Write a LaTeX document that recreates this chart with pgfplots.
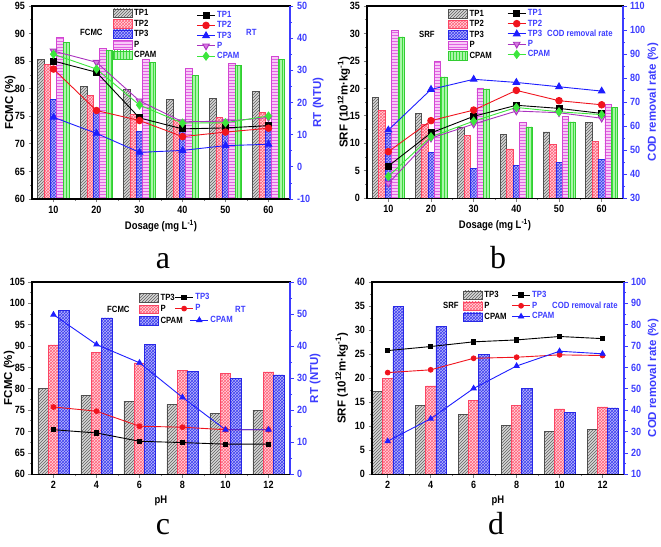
\documentclass[border=0pt]{standalone}
\usepackage{fontspec}
\setmainfont{Liberation Sans}[FakeStretch=0.86]
\newfontfamily\ylabfont{Liberation Sans}
\newfontfamily\letterfont{Liberation Serif}
\usepackage{pgfplots}
\usepackage{pgfplotstable}
\pgfplotsset{compat=1.18}
\usetikzlibrary{patterns}

\definecolor{axisblue}{RGB}{60,60,255}
\definecolor{gfill}{RGB}{215,215,215}
\definecolor{gpat}{RGB}{95,95,95}
\definecolor{gdraw}{RGB}{80,80,80}
\definecolor{rfill}{RGB}{255,215,222}
\definecolor{rpat}{RGB}{255,95,120}
\definecolor{rdraw}{RGB}{250,70,100}
\definecolor{bfill}{RGB}{185,185,250}
\definecolor{bpat}{RGB}{60,60,240}
\definecolor{bdraw}{RGB}{40,40,230}
\definecolor{pfill}{RGB}{248,200,248}
\definecolor{ppat}{RGB}{225,100,225}
\definecolor{pdraw}{RGB}{210,70,210}
\definecolor{cfill}{RGB}{170,245,170}
\definecolor{cpat}{RGB}{60,220,60}
\definecolor{cdraw}{RGB}{50,205,50}
\definecolor{lred}{RGB}{240,20,30}
\definecolor{lblue}{RGB}{30,30,255}
\definecolor{lpurp}{RGB}{170,50,190}
\definecolor{lpurpfill}{RGB}{215,120,225}
\definecolor{lgreen}{RGB}{60,230,60}

% ---------------- data ----------------
\pgfplotstableread{
x   TP1  TP2  TP3  P    CPAM
10  85.3 84.4 78.1 89.3 88.4
20  80.4 78.8 75.8 87.3 87.0
30  79.9 75.4 72.2 85.3 84.8
40  78.0 74.2 72.3 83.7 82.4
50  78.3 74.8 72.7 84.6 84.2
60  79.5 75.7 73.0 85.8 85.3
}\tabAbar
\pgfplotstableread{
x   TP1  TP2  TP3  P    CPAM
10  32.9 30.4 15.4 36.0 35.0
20  29.4 17.5 10.4 32.5 30.4
30  15.2 14.4 4.5  20.5 19.2
40  11.8 9.4  5.1  14.0 13.6
50  12.1 10.8 6.6  14.2 13.7
60  12.8 12.0 7.0  15.3 15.8
}\tabAline
\pgfplotstableread{
x   TP1  TP2  TP3  P    CPAM
10  18.4 16.0 11.9 30.6 29.4
20  15.4 13.5 8.4  25.0 22.1
30  13.0 11.4 5.5  20.1 19.9
40  11.6 9.0  6.0  13.8 13.0
50  12.1 9.8  6.6  14.9 13.9
60  13.8 10.3 7.1  17.1 16.6
}\tabBbar
\pgfplotstableread{
x   TP1  TP2  TP3  P    CPAM
10  43.4 49.4 58.4 36.2 39.1
20  57.2 62.3 75.3 55.0 55.6
30  64.1 66.7 79.5 60.9 62.1
40  68.7 74.9 78.2 66.3 67.8
50  67.4 70.6 76.4 65.6 66.0
60  65.3 68.9 74.6 63.3 64.8
}\tabBline
\pgfplotstableread{
x   TP3   P     CPAM
2   80.1  90.3  98.3
4   78.5  88.5  96.6
6   77.1  86.1  90.4
8   76.4  84.3  84.0
10  74.25 83.7  82.5
12  75.0  83.95 83.25
}\tabCbar
\pgfplotstableread{
x   TP3  P    CPAM
2   13.9 21.0 49.8
4   12.9 19.7 40.5
6   10.3 15.0 34.8
8   9.9  14.7 24.0
10  9.4  13.9 13.9
12  9.4  13.9 13.9
}\tabCline
\pgfplotstableread{
x   TP3  P     CPAM
2   17.3 20.0  34.9
4   14.4 18.4  30.8
6   12.4 15.4  24.9
8   10.2 14.4  17.9
10  8.9  13.6  12.9
12  9.3  14.05 13.8
}\tabDbar
\pgfplotstableread{
x   TP3  P    CPAM
2   67.9 57.6 25.5
4   69.8 58.9 36.0
6   72.0 64.3 50.2
8   72.9 64.8 60.7
10  74.5 65.9 67.6
12  73.5 65.6 66.4
}\tabDline

\pgfplotsset{
  barleg/.style={legend image code/.code={\draw[##1] (0pt,-4.25pt) rectangle (19pt,4.25pt);}},
  lineleg/.style={legend image code/.code={\path[draw=none,fill=none] (0pt,-4.25pt) rectangle (18pt,4.25pt);
      \draw[mark repeat=2,mark phase=2,##1] plot coordinates {(0pt,0pt) (9pt,0pt) (18pt,0pt)};}},
  gbar/.style={fill=gfill, draw=gdraw, line width=0.5pt, postaction={pattern=north east lines, pattern color=gpat}, barleg},
  rbar/.style={fill=rfill, draw=rdraw, line width=0.5pt, postaction={pattern=crosshatch, pattern color=rpat}, barleg},
  bbar/.style={fill=bfill, draw=bdraw, line width=0.5pt, postaction={pattern=crosshatch, pattern color=bpat}, barleg},
  pbar/.style={fill=pfill, draw=pdraw, line width=0.5pt, postaction={pattern=horizontal lines, pattern color=ppat}, barleg},
  cbar/.style={fill=cfill, draw=cdraw, line width=0.5pt, postaction={pattern=vertical lines, pattern color=cpat}, barleg},
  lK/.style={black, line width=0.9pt, mark=square*, mark size=3pt, mark options={solid, fill=black}, lineleg},
  lR/.style={lred, line width=0.9pt, mark=*, mark size=3.3pt, mark options={solid, fill=lred}, lineleg},
  lB/.style={lblue, line width=0.9pt, mark=triangle*, mark size=3.8pt, mark options={solid, fill=lblue}, lineleg},
  lP/.style={lpurp, line width=0.9pt, mark=triangle*, mark size=3.8pt, mark options={solid, rotate=180, fill=lpurpfill, draw=lpurp}, lineleg},
  lG/.style={lgreen, line width=0.9pt, mark=diamond*, mark size=4pt, mark options={solid, fill=lgreen}, lineleg},
  sK/.style={black, line width=0.9pt, mark=square*, mark size=2.2pt, mark options={solid, fill=black}, lineleg},
  sR/.style={lred, line width=0.9pt, mark=*, mark size=2.4pt, mark options={solid, fill=lred}, lineleg},
  sB/.style={lblue, line width=0.9pt, mark=triangle*, mark size=3pt, mark options={solid, fill=lblue}, lineleg},
  panel/.style={scale only axis, font=\bfseries\fontsize{10.5}{12}\selectfont,
    /pgf/number format/assume math mode=true, tick align=outside,
    major tick length=3.5pt, minor tick length=2pt,
    axis line style={line width=1.1pt}, every tick/.append style={line width=0.8pt},
    xlabel style={font=\bfseries\fontsize{11}{13}\selectfont},
    ylabel style={font=\ylabfont\bfseries\fontsize{11.5}{13}\selectfont},
    legend cell align=left,
    legend style={draw=none, fill=none, inner sep=0pt, outer sep=0pt, row sep=1.5pt, column sep=1.2pt,
      font=\bfseries\fontsize{9}{10}\selectfont, nodes={inner sep=0.5pt}}},
  lax/.style={panel, tick pos=left, axis on top, minor x tick num=1, minor y tick num=1, ybar=0pt},
  rax/.style={panel, axis y line*=right, axis x line=none, minor y tick num=1,
    y axis line style={axisblue, line width=1.1pt}, every tick/.append style={axisblue},
    yticklabel style={text=axisblue}, ylabel style={text=axisblue},
    legend style={nodes={text=axisblue}}},
  ylpos/.style={ylabel style={at={(axis description cs:#1,0.5)}, anchor=center}},
}

\begin{document}
\begin{tikzpicture}
\useasboundingbox (0pt,0pt) rectangle (661pt,546pt);

% ================= panel a =================
\begin{axis}[lax, at={(32pt,347pt)}, anchor=south west, width=258pt, height=193pt,
  xmin=5, xmax=65, ymin=60, ymax=95, xtick={10,20,...,60}, ytick={60,65,...,95},
  bar width=6.4pt, xlabel={Dosage (mg L\textsuperscript{-1})}, ylabel={FCMC (\%)}, ylpos=-0.085,
  legend style={at={(0.314,0.986)}, anchor=north west}]
\addplot[gbar] table[x=x,y=TP1]{\tabAbar}; \addlegendentry{TP1}
\addplot[rbar] table[x=x,y=TP2]{\tabAbar}; \addlegendentry{TP2}
\addplot[bbar] table[x=x,y=TP3]{\tabAbar}; \addlegendentry{TP3}
\addplot[pbar] table[x=x,y=P]{\tabAbar}; \addlegendentry{P}
\addplot[cbar] table[x=x,y=CPAM]{\tabAbar}; \addlegendentry{CPAM}
\end{axis}
\begin{axis}[rax, at={(32pt,347pt)}, anchor=south west, width=258pt, height=193pt,
  xmin=5, xmax=65, ymin=-10, ymax=50, ytick={-10,0,...,50}, ylabel={RT (NTU)}, ylpos=1.109,
  legend style={at={(0.638,0.975)}, anchor=north west}]
\addplot[lK] table[x=x,y=TP1]{\tabAline}; \addlegendentry{TP1}
\addplot[lR] table[x=x,y=TP2]{\tabAline}; \addlegendentry{TP2}
\addplot[lB] table[x=x,y=TP3]{\tabAline}; \addlegendentry{TP3}
\addplot[lP] table[x=x,y=P]{\tabAline}; \addlegendentry{P}
\addplot[lG] table[x=x,y=CPAM]{\tabAline}; \addlegendentry{CPAM}
\end{axis}

% ================= panel b =================
\begin{axis}[lax, at={(367pt,347.7pt)}, anchor=south west, width=256pt, height=192.3pt,
  xmin=5, xmax=65, ymin=0, ymax=35, xtick={10,20,...,60}, ytick={0,5,...,35},
  bar width=6.4pt, xlabel={Dosage (mg L\textsuperscript{-1})},
  ylabel={SRF (10\textsuperscript{12}m·kg\textsuperscript{-1})}, ylpos=-0.09,
  legend style={at={(0.318,0.983)}, anchor=north west}]
\addplot[gbar] table[x=x,y=TP1]{\tabBbar}; \addlegendentry{TP1}
\addplot[rbar] table[x=x,y=TP2]{\tabBbar}; \addlegendentry{TP2}
\addplot[bbar] table[x=x,y=TP3]{\tabBbar}; \addlegendentry{TP3}
\addplot[pbar] table[x=x,y=P]{\tabBbar}; \addlegendentry{P}
\addplot[cbar] table[x=x,y=CPAM]{\tabBbar}; \addlegendentry{CPAM}
\end{axis}
\begin{axis}[rax, at={(367pt,347.7pt)}, anchor=south west, width=256pt, height=192.3pt,
  xmin=5, xmax=65, ymin=30, ymax=110, ytick={30,40,...,110}, ylabel={COD removal rate (\%)}, ylpos=1.117,
  legend style={at={(0.548,0.984)}, anchor=north west}]
\addplot[lK] table[x=x,y=TP1]{\tabBline}; \addlegendentry{TP1}
\addplot[lR] table[x=x,y=TP2]{\tabBline}; \addlegendentry{TP2}
\addplot[lB] table[x=x,y=TP3]{\tabBline}; \addlegendentry{TP3}
\addplot[lP] table[x=x,y=P]{\tabBline}; \addlegendentry{P}
\addplot[lG] table[x=x,y=CPAM]{\tabBline}; \addlegendentry{CPAM}
\end{axis}

% ================= panel c =================
\begin{axis}[lax, at={(32pt,71.7pt)}, anchor=south west, width=258pt, height=192.3pt,
  xmin=1, xmax=13, ymin=60, ymax=105, xtick={2,4,...,12}, ytick={60,65,...,105},
  bar width=10.4pt, xlabel={pH}, ylabel={FCMC (\%)}, ylpos=-0.089,
  legend style={at={(0.416,0.941)}, anchor=north west, row sep=2.5pt}]
\addplot[gbar] table[x=x,y=TP3]{\tabCbar}; \addlegendentry{TP3}
\addplot[rbar] table[x=x,y=P]{\tabCbar}; \addlegendentry{P}
\addplot[bbar] table[x=x,y=CPAM]{\tabCbar}; \addlegendentry{CPAM}
\end{axis}
\begin{axis}[rax, at={(32pt,71.7pt)}, anchor=south west, width=258pt, height=192.3pt,
  xmin=1, xmax=13, ymin=0, ymax=60, ytick={0,10,...,60}, ylabel={RT (NTU)}, ylpos=1.097,
  legend style={at={(0.553,0.943)}, anchor=north west, row sep=2.5pt}]
\addplot[sK] table[x=x,y=TP3]{\tabCline}; \addlegendentry{TP3}
\addplot[sR] table[x=x,y=P]{\tabCline}; \addlegendentry{P}
\addplot[sB, forget plot] table[x=x,y=CPAM]{\tabCline};
\end{axis}
\begin{axis}[panel, hide axis, at={(32pt,71.7pt)}, anchor=south west, width=258pt, height=192.3pt,
  xmin=1, xmax=13, ymin=0, ymax=60,
  legend style={at={(0.612,0.8245)}, anchor=north west, nodes={text=axisblue}}]
\addlegendimage{sB}
\addlegendentry{CPAM}
\end{axis}

% ================= panel d =================
\begin{axis}[lax, at={(372pt,71.7pt)}, anchor=south west, width=252pt, height=192.3pt,
  xmin=1.27, xmax=13, ymin=0, ymax=40, xtick={2,4,...,12}, ytick={0,5,...,40},
  bar width=10.2pt, xlabel={pH},
  ylabel={SRF (10\textsuperscript{12}m·kg\textsuperscript{-1})}, ylpos=-0.12,
  legend style={at={(0.362,0.955)}, anchor=north west, row sep=2pt}]
\addplot[gbar] table[x=x,y=TP3]{\tabDbar}; \addlegendentry{TP3}
\addplot[rbar] table[x=x,y=P]{\tabDbar}; \addlegendentry{P}
\addplot[bbar] table[x=x,y=CPAM]{\tabDbar}; \addlegendentry{CPAM}
\end{axis}
\begin{axis}[rax, at={(372pt,71.7pt)}, anchor=south west, width=252pt, height=192.3pt,
  xmin=1.27, xmax=13, ymin=10, ymax=100, ytick={10,20,...,100}, ylabel={COD removal rate (\%)}, ylpos=1.116,
  legend style={at={(0.554,0.955)}, anchor=north west, row sep=2pt}]
\addplot[sK] table[x=x,y=TP3]{\tabDline}; \addlegendentry{TP3}
\addplot[sR] table[x=x,y=P]{\tabDline}; \addlegendentry{P}
\addplot[sB] table[x=x,y=CPAM]{\tabDline}; \addlegendentry{CPAM}
\end{axis}

% annotations
\begin{scope}[every node/.style={anchor=west, inner sep=0pt, font=\bfseries\fontsize{9}{10}\selectfont}]
\node at (80pt,514pt) {FCMC};
\node[text=axisblue] at (246pt,514pt) {RT};
\node at (419pt,512pt) {SRF};
\node[text=axisblue] at (547pt,513pt) {COD removal rate};
\node at (107pt,237pt) {FCMC};
\node[text=axisblue] at (235pt,237pt) {RT};
\node at (443pt,241pt) {SRF};
\node[text=axisblue] at (552pt,241pt) {COD removal rate};
\end{scope}
\begin{scope}[every node/.style={anchor=base, inner sep=0pt, font=\letterfont\fontsize{32}{32}\selectfont}]
\node at (163pt,277pt) {a};
\node at (498pt,277pt) {b};
\node at (163pt,12pt) {c};
\node at (496pt,12pt) {d};
\end{scope}
\end{tikzpicture}
\end{document}
